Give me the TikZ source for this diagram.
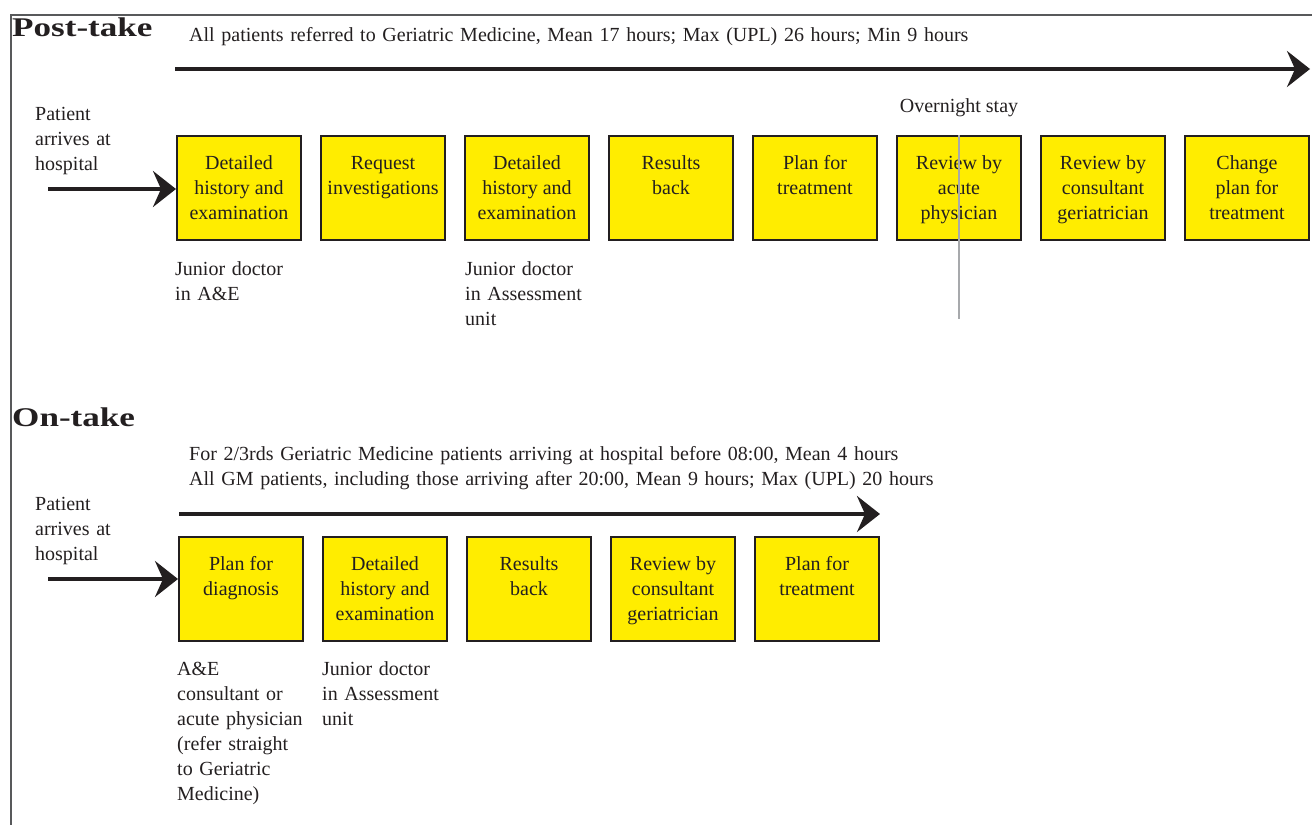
\documentclass[tikz,border=0pt]{standalone}
\usepackage{fontspec}
\setmainfont{Liberation Serif}
\newfontfamily\headfont[FakeStretch=1.3]{Liberation Serif}
\usetikzlibrary{positioning, arrows.meta, calc}
\definecolor{ink}{HTML}{231F20}
\definecolor{gelb}{HTML}{FFED00}
\definecolor{frame}{HTML}{58595B}
\definecolor{nightgray}{HTML}{A7A9AC}
\newcommand{\body}{\fontsize{20}{25}\selectfont}
\newcommand{\stagetext}[1]{\parbox[c][72pt][t]{124pt}{\centering\strut #1}}

\begin{document}
\begin{tikzpicture}[x=1pt, y=-1pt,
  stage/.style={draw=ink, line width=2pt, fill=gelb, minimum width=124pt,
                minimum height=104pt, inner sep=0pt, font=\body, text=ink},
  note/.style={anchor=base west, inner sep=0pt, align=left, text width=160pt,
               font=\body, text=ink},
  head/.style={anchor=base west, inner sep=0pt, text=ink,
               font=\headfont\bfseries\fontsize{27}{30}\selectfont},
  arr/.style={draw=ink, line width=4pt, -{Stealth[length=23pt, width=36pt, inset=8pt]}},
]
\useasboundingbox (0,0) rectangle (1312,825);
\draw[frame, line width=1.5pt] (1312,15) -- (11,15) -- (11,825);

% post-take pathway
\node[head] (post) at (12,36) {Post-take};
\node[note, text width=1000pt] (posttime) at (189,41)
  {All patients referred to Geriatric Medicine, Mean 17 hours; Max (UPL) 26 hours; Min 9 hours};
\coordinate (t0) at (175,69);
\coordinate (t1) at (1310,69);
\draw[arr] (t0) -- (t1);

\node[note] (arrive1) at (35,120) {Patient\\arrives at\\hospital};

\node[stage, anchor=north west] (r1) at (176,135) {\stagetext{Detailed\\history and\\examination}};
\node[stage, right=18pt of r1] (r2) {\stagetext{Request\\investigations}};
\node[stage, right=18pt of r2] (r3) {\stagetext{Detailed\\history and\\examination}};
\node[stage, right=18pt of r3] (r4) {\stagetext{Results\\back}};
\node[stage, right=18pt of r4] (r5) {\stagetext{Plan for\\treatment}};
\node[stage, right=18pt of r5] (r6) {\stagetext{Review by\\acute\\physician}};
\node[stage, right=18pt of r6] (r7) {\stagetext{Review by\\consultant\\geriatrician}};
\node[stage, right=18pt of r7] (r8) {\stagetext{Change\\plan for\\treatment}};

\coordinate (p1) at (48,189);
\draw[arr] (p1) -- (p1 -| r1.west);

\node[anchor=base, inner sep=0pt, font=\body, text=ink] (overnight) at (r6.center |- 0,112) {Overnight stay};
\coordinate (n1) at (r6.center |- 0,319);
\draw[nightgray, line width=2pt] (r6.north) -- (n1);

\node[note] (who1) at (175,275) {Junior doctor\\in A\&E};
\node[note] (who2) at (465,275) {Junior doctor\\in Assessment\\unit};

% on-take pathway
\node[head] (on) at (12,426) {On-take};
\node[note, text width=1000pt] (ontime) at (189,460)
  {For 2/3rds Geriatric Medicine patients arriving at hospital before 08:00, Mean 4 hours\\
   All GM patients, including those arriving after 20:00, Mean 9 hours; Max (UPL) 20 hours};
\coordinate (t2) at (179,514);
\coordinate (t3) at (880,514);
\draw[arr] (t2) -- (t3);

\node[note] (arrive2) at (35,510) {Patient\\arrives at\\hospital};

\node[stage, anchor=north west] (b1) at (178,536) {\stagetext{Plan for\\diagnosis}};
\node[stage, right=18pt of b1] (b2) {\stagetext{Detailed\\history and\\examination}};
\node[stage, right=18pt of b2] (b3) {\stagetext{Results\\back}};
\node[stage, right=18pt of b3] (b4) {\stagetext{Review by\\consultant\\geriatrician}};
\node[stage, right=18pt of b4] (b5) {\stagetext{Plan for\\treatment}};

\coordinate (p2) at (48,579);
\draw[arr] (p2) -- (p2 -| b1.west);

\node[note] (who3) at (177,675) {A\&E\\consultant or\\acute physician\\(refer straight\\to Geriatric\\Medicine)};
\node[note] (who4) at (322,675) {Junior doctor\\in Assessment\\unit};
\end{tikzpicture}
\end{document}
